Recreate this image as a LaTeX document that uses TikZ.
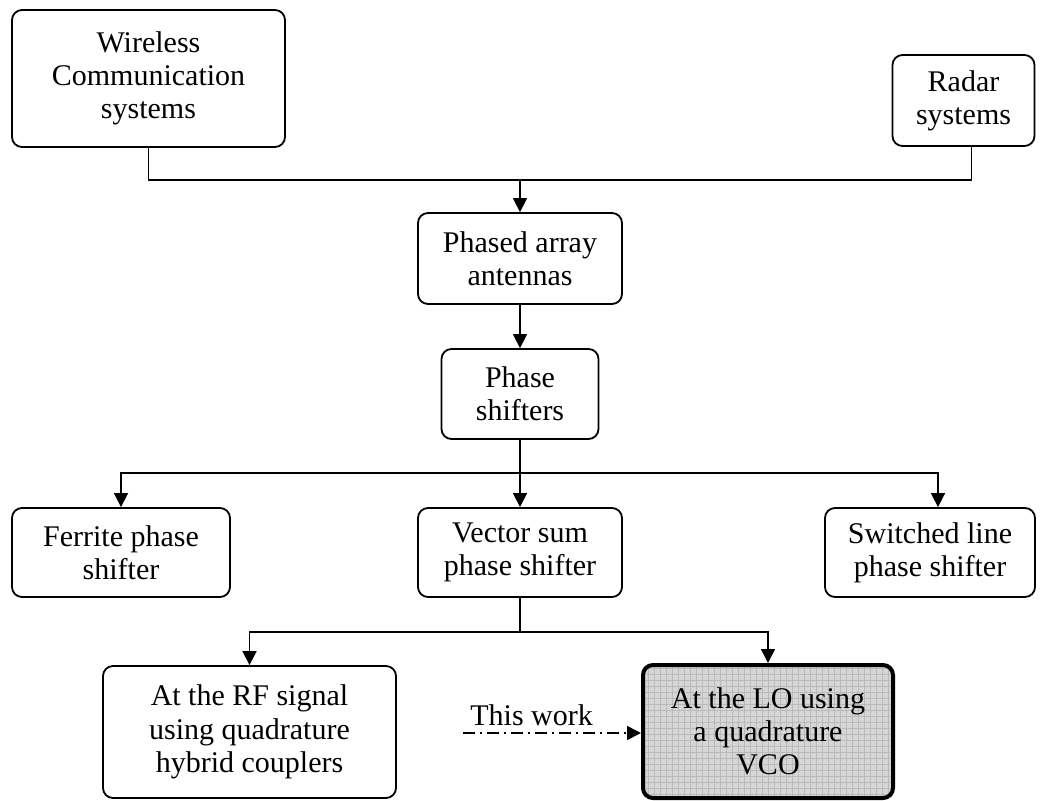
\documentclass[tikz,border=0pt]{standalone}
\usepackage{fontspec}
\setmainfont{Liberation Serif}
\usetikzlibrary{arrows.meta}
\usetikzlibrary{patterns}
\definecolor{lgrau}{HTML}{d6d6d6}
\definecolor{rgrau}{HTML}{bababa}

\begin{document}
\begin{tikzpicture}[x=0.5pt,y=-0.5pt,>={Triangle[length=7pt,width=7pt]},
        box/.style={draw, rectangle, rounded corners=5pt, line width=0.9pt, align=center, inner sep=0pt, font=\fontsize{15}{16.6}\selectfont},
        conn/.style={line width=0.8pt}]
        \useasboundingbox (0,0) rectangle (1040,800);

        \node[box, minimum width=136.5pt, minimum height=68.5pt] (W) at (148.5, 78.5) {Wireless\\Communication\\systems};

        \node[box, minimum width=71pt, minimum height=45.5pt] (R) at (963.5, 100.5) {Radar\\systems};

        \node[box, minimum width=102pt, minimum height=45.5pt] (P) at (520, 258.5) {Phased array\\antennas};

        \node[box, minimum width=78.5pt, minimum height=45pt] (PS) at (520, 394) {Phase\\shifters};

        \node[box, minimum width=109pt, minimum height=44.5pt] (F) at (121, 552.5) {Ferrite phase\\shifter};

        \node[box, minimum width=102pt, minimum height=44.5pt] (V) at (520, 552.5) {Vector sum\\phase shifter};

        \node[box, minimum width=105pt, minimum height=44.5pt] (SL) at (930, 552.5) {Switched line\\phase shifter};

        \node[box, minimum width=146.5pt, minimum height=66pt] (RF) at (249.5, 732) {At the RF signal\\using quadrature\\hybrid couplers};

        \node[box, line width=2pt, preaction={fill=lgrau}, preaction={pattern=grid, pattern color=rgrau}, minimum width=125pt, minimum height=66.5pt] (LO) at (768, 731.5) {At the LO using\\a quadrature\\VCO};

        \node[anchor=base west, inner sep=0pt, font=\fontsize{15}{16.6}\selectfont] (TW) at (470, 725) {This work};

        \coordinate (j1) at (520, 180);
        \coordinate (j2) at (520, 473);
        \coordinate (j3) at (520, 632);
        \coordinate (t) at (463, 733);

        \draw[conn] (W.south) |- (j1) -| ([xshift=4pt]R.south);
        \draw[conn, ->] (j1) -- (P.north);
        \draw[conn, ->] (P) -- (PS);

        \draw[conn, ->] (PS.south) -- (V.north);
        \draw[conn, ->] (j2) -| (F.north);
        \draw[conn, ->] (j2) -| ([xshift=4pt]SL.north);

        \draw[conn] (V.south) -- (j3);
        \draw[conn, ->] (j3) -| (RF.north);
        \draw[conn, ->] (j3) -| (LO.north);

        \draw[conn, dash pattern=on 6pt off 2.5pt on 1pt off 2.5pt, ->] (t) -- (LO.west |- t);

    \end{tikzpicture}
\end{document}
